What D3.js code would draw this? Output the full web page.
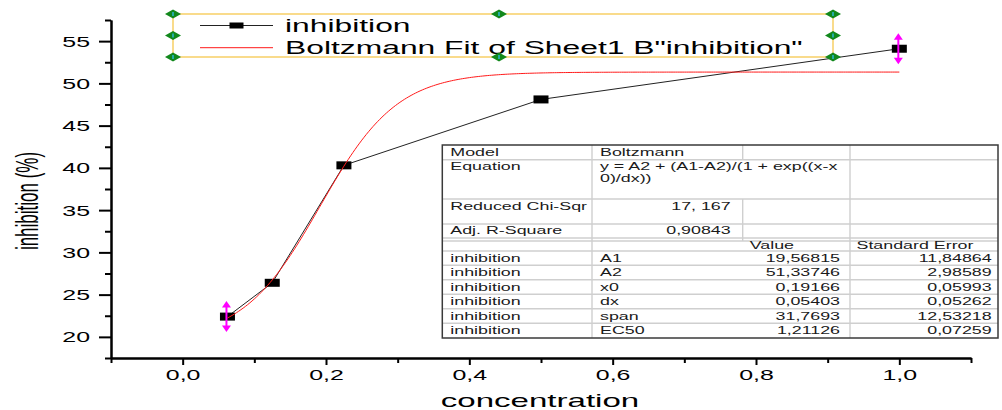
<!DOCTYPE html>
<html>
<head>
<meta charset="utf-8">
<script src="https://cdn.jsdelivr.net/npm/d3@7"></script>
<style>
  html, body { margin: 0; padding: 0; background: #fff; }
  svg { display: block; }
  text { font-family: "Liberation Sans", Arial, sans-serif; }
</style>
</head>
<body>
<svg id="chart" width="1002" height="410"></svg>
<script>
// Measured inhibition vs concentration
const concentration = [0.0625, 0.125, 0.225, 0.5, 1.0];
const inhibition = [22.4, 26.4, 40.3, 48.1, 54.1];

// Boltzmann fit results
const paramNames = ["A1", "A2", "x0", "dx", "span", "EC50"];
const paramValues = [19.56815, 51.33746, 0.19166, 0.05403, 31.7693, 1.21126];
const paramErrors = [11.84864, 2.98589, 0.05993, 0.05262, 12.53218, 0.07259];
const reducedChiSqr = "17, 167";
const adjRSquare = "0,90843";

// Axis ticks
const xMajorTicks = [0, 0.2, 0.4, 0.6, 0.8, 1.0];
const xMinorTicks = [-0.1, 0.1, 0.3, 0.5, 0.7, 0.9, 1.1];
const yMajorTicks = [20, 25, 30, 35, 40, 45, 50, 55];
const yMinorTicks = [17.5, 22.5, 27.5, 32.5, 37.5, 42.5, 47.5, 52.5, 57.5];

const legendLabels = ["inhibition", "Boltzmann Fit of Sheet1 B\"inhibition\""];

const svg = d3.select("#chart");

const x = d3.scaleLinear().domain([-0.1, 1.1]).range([111, 971]);
const y = d3.scaleLinear().domain([17.5, 57.5]).range([358, 20]);

const comma = v => String(v).replace(".", ",");

function stretchText(sel, sx) {
  sel.each(function () {
    const t = d3.select(this);
    const tx = +t.attr("data-x") || 0, ty = +t.attr("data-y") || 0;
    t.attr("x", 0).attr("y", 0).attr("dy", null)
     .attr("transform", `translate(${tx},${ty}) scale(${sx},1)`);
  });
}

// ---- axes ----
const axisStyle = g => {
  g.selectAll("path.domain").attr("stroke", "#000").attr("stroke-width", 2);
  g.selectAll(".tick line").attr("stroke", "#000").attr("stroke-width", 2);
};

svg.append("g").attr("transform", `translate(${x(-0.1)},0)`)
  .call(d3.axisLeft(y).tickValues(yMinorTicks).tickSize(6).tickSizeOuter(0).tickFormat(""))
  .call(axisStyle);
const yMajor = svg.append("g").attr("transform", `translate(${x(-0.1)},0)`)
  .call(d3.axisLeft(y).tickValues(yMajorTicks).tickSize(12).tickSizeOuter(0).tickFormat(d3.format("d")))
  .call(axisStyle);
yMajor.selectAll(".tick text")
  .attr("data-x", -21).attr("data-y", 5)
  .attr("text-anchor", "end").attr("font-size", 14).attr("fill", "#000")
  .call(stretchText, 1.78);

svg.append("g").attr("transform", `translate(0,${y(17.5)})`)
  .call(d3.axisBottom(x).tickValues(xMinorTicks).tickSize(5).tickSizeOuter(0).tickFormat(""))
  .call(axisStyle);
const xMajor = svg.append("g").attr("transform", `translate(0,${y(17.5)})`)
  .call(d3.axisBottom(x).tickValues(xMajorTicks).tickSize(7).tickSizeOuter(0)
    .tickFormat(d => comma(d3.format(".1f")(d))))
  .call(axisStyle);
xMajor.selectAll(".tick text")
  .attr("data-x", 0).attr("data-y", 22)
  .attr("text-anchor", "middle").attr("font-size", 14).attr("fill", "#000")
  .call(stretchText, 1.78);

// axis titles
svg.append("text")
  .attr("transform", `translate(540,406.5) scale(1.74,1)`)
  .attr("text-anchor", "middle").attr("font-size", 19).attr("fill", "#000")
  .text("concentration");
svg.append("text")
  .attr("transform", `translate(38,201) scale(1.9,1) rotate(-90)`)
  .attr("text-anchor", "middle").attr("font-size", 17).attr("fill", "#000")
  .text("inhibition (%)");

// ---- data ----
const pts = concentration.map((c, i) => ({ c, v: inhibition[i] }));

svg.append("path")
  .datum(pts)
  .attr("fill", "none").attr("stroke", "#222").attr("stroke-width", 1)
  .attr("d", d3.line().x(d => x(d.c)).y(d => y(d.v)));

const markerW = 15, markerH = 8;
svg.append("g").selectAll("rect").data(pts).join("rect")
  .attr("x", d => x(d.c) - markerW / 2).attr("y", d => y(d.v) - markerH / 2)
  .attr("width", markerW).attr("height", markerH).attr("fill", "#000");

// Boltzmann fit curve from the fitted parameters
const [A1, A2, x0, dx] = paramValues;
const boltzmann = t => A2 + (A1 - A2) / (1 + Math.exp((t - x0) / dx));
const xFirst = concentration[0], xLast = concentration[concentration.length - 1];
const fitXs = d3.range(0, 301).map(i => xFirst + (xLast - xFirst) * i / 300);
svg.append("path")
  .datum(fitXs)
  .attr("fill", "none").attr("stroke", "#ff1a1a").attr("stroke-width", 1)
  .attr("d", d3.line().x(d => x(d)).y(d => y(boltzmann(d))));

// selection handles on the end points of the fitted range
[pts[0], pts[pts.length - 1]].forEach(p => {
  const cx = x(p.c) - 1, cy = y(p.v);
  const g = svg.append("g").attr("fill", "#ff00ff").attr("stroke", "#ff00ff");
  g.append("line").attr("x1", cx).attr("x2", cx).attr("y1", cy - 12).attr("y2", cy + 12)
    .attr("stroke-width", 2);
  g.append("path").attr("stroke", "none")
    .attr("d", `M${cx - 4.5},${cy - 9}L${cx + 4.5},${cy - 9}L${cx},${cy - 15.5}Z`);
  g.append("path").attr("stroke", "none")
    .attr("d", `M${cx - 4.5},${cy + 9}L${cx + 4.5},${cy + 9}L${cx},${cy + 15.5}Z`);
});

// ---- legend ----
const legend = svg.append("g");
legend.append("rect").attr("x", 173).attr("y", 14).attr("width", 660).attr("height", 43)
  .attr("fill", "#fff").attr("stroke", "#f6c440").attr("stroke-width", 1.2);
legend.append("line").attr("x1", 200).attr("x2", 273).attr("y1", 25.5).attr("y2", 25.5)
  .attr("stroke", "#222").attr("stroke-width", 1);
legend.append("rect").attr("x", 229.5).attr("y", 22.5).attr("width", 14).attr("height", 6).attr("fill", "#000");
legend.append("line").attr("x1", 200).attr("x2", 273).attr("y1", 47.7).attr("y2", 47.7)
  .attr("stroke", "#ff1a1a").attr("stroke-width", 1);
legend.selectAll("text.lab").data(legendLabels).join("text")
  .attr("class", "lab")
  .attr("transform", (d, i) => `translate(285,${i === 0 ? 31.7 : 54}) scale(1.72,1)`)
  .attr("font-size", 18.5).attr("fill", "#000")
  .text(d => d);

const handles = [[173, 14], [173, 35.5], [173, 57], [499, 14], [499, 57], [833, 14], [833, 35.5], [833, 57]];
handles.forEach(([hx, hy]) => {
  legend.append("path")
    .attr("d", `M${hx - 8},${hy}L${hx},${hy - 4.5}L${hx + 8},${hy}L${hx},${hy + 4.5}Z`)
    .attr("fill", "#12881c");
  legend.append("rect").attr("x", hx - 0.8).attr("y", hy - 2).attr("width", 1.6).attr("height", 4)
    .attr("fill", "#2bb3c8");
});

// ---- fit results table ----
const cols = [442.3, 592, 742.7, 850, 998];
const tblTop = 145, tblBottom = 338;
const tbl = svg.append("g");
tbl.append("rect").attr("x", cols[0]).attr("y", tblTop).attr("width", cols[4] - cols[0]).attr("height", tblBottom - tblTop)
  .attr("fill", "#fff");

const gridColor = "#cfcfcf";
const hLines = [159.7, 199, 224, 238, 241, 251, 265.3, 279.8, 294.3, 308.8, 323.3];
hLines.forEach(hy => tbl.append("line").attr("x1", cols[0]).attr("x2", cols[4]).attr("y1", hy).attr("y2", hy)
  .attr("stroke", gridColor).attr("stroke-width", 1.4));
tbl.append("line").attr("x1", cols[1]).attr("x2", cols[1]).attr("y1", tblTop).attr("y2", tblBottom)
  .attr("stroke", gridColor).attr("stroke-width", 1.4);
tbl.append("line").attr("x1", cols[3]).attr("x2", cols[3]).attr("y1", tblTop).attr("y2", tblBottom)
  .attr("stroke", gridColor).attr("stroke-width", 1.4);
[[tblTop, 159.7], [199, 241]].forEach(([a, b]) =>
  tbl.append("line").attr("x1", cols[2]).attr("x2", cols[2]).attr("y1", a).attr("y2", b)
    .attr("stroke", gridColor).attr("stroke-width", 1.4));
tbl.append("rect").attr("x", cols[0]).attr("y", tblTop).attr("width", cols[4] - cols[0]).attr("height", tblBottom - tblTop)
  .attr("fill", "none").attr("stroke", "#3a3a3a").attr("stroke-width", 1.5);

const TS = 1.7, TF = 10.5;
function cell(str, tx, ty, anchor) {
  tbl.append("text")
    .attr("transform", `translate(${tx},${ty + 3.8}) scale(${TS},1)`)
    .attr("text-anchor", anchor || "start")
    .attr("font-size", TF).attr("fill", "#1a1a1a")
    .text(str);
}
const padL = 8;
cell("Model", cols[0] + padL, 152.5);
cell("Boltzmann", cols[1] + padL, 152.5);
cell("Equation", cols[0] + padL, 166.5);
cell("y = A2 + (A1-A2)/(1 + exp((x-x", cols[1] + padL, 166.5);
cell("0)/dx))", cols[1] + padL, 178);
cell("Reduced Chi-Sqr", cols[0] + padL, 206);
cell(reducedChiSqr, cols[2] - 12, 206, "end");
cell("Adj. R-Square", cols[0] + padL, 229.7);
cell(adjRSquare, cols[2] - 12, 229.7, "end");
cell("Value", cols[2] + 7, 245);
cell("Standard Error", cols[3] + 6.5, 245);

const rowTop = 251, rowH = 14.5;
paramNames.forEach((name, i) => {
  const cy = rowTop + rowH * i + 7;
  cell("inhibition", cols[0] + padL, cy);
  cell(name, cols[1] + padL, cy);
  cell(comma(paramValues[i]), cols[3] - 10, cy, "end");
  cell(comma(paramErrors[i]), cols[4] - 6.3, cy, "end");
});
</script>
</body>
</html>
